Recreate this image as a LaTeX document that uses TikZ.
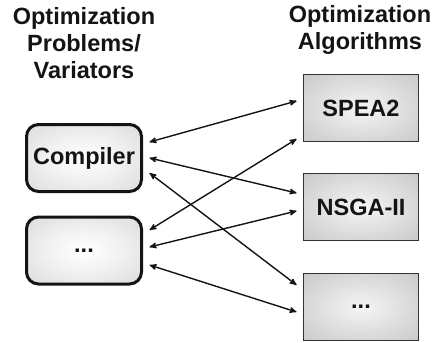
\documentclass[tikz,border=0pt]{standalone}
\usepackage{fontspec}
\setmainfont{Liberation Sans}
\usetikzlibrary{arrows}
\pgfdeclareradialshading{probshade}{\pgfpoint{0bp}{0bp}}{color(0bp)=(white); color(15bp)=(white!95!black); color(50bp)=(white!80!black); color(75bp)=(white!78!black)}
\pgfdeclareradialshading{algoshade}{\pgfpoint{0bp}{0bp}}{color(0bp)=(white!96!black); color(50bp)=(white!72!black); color(75bp)=(white!70!black)}

\begin{document}
\begin{tikzpicture}[x=1pt,y=-1pt,
every edge/.style = {draw=black!92,line width=1.4pt,stealth'-stealth'},
 prob/.style = {rectangle, rounded corners=12pt, draw=black!92, line width=3pt,
      shade, shading=probshade, minimum width=115pt, minimum height=67pt,
      text=black!92, font=\fontsize{23.5}{27}\selectfont\bfseries},
 algo/.style = {rectangle, draw=black!80, line width=0.9pt,
      shade, shading=algoshade, minimum width=115pt, minimum height=67pt,
      text=black!92, font=\fontsize{23.5}{27}\selectfont\bfseries},
 head/.style = {align=center, text=black!92, font=\fontsize{23.5}{27}\selectfont\bfseries}
                    ]
\useasboundingbox (0,0) rectangle (432,343);
\node(lhead) [head] at (84,43.5) {Optimization\\Problems/\\Variators};
\node(rhead) [head] at (360,30) {Optimization\\Algorithms};
\node(comp) [prob] at (84,158) {Compiler};
\node(pdots) [prob] at (84,250.5) {...};
\node(spea) [algo] at (361,108) {SPEA2};
\node(nsga) [algo] at (361,207) {NSGA-II};
\node(adots) [algo] at (361,307) {...};
%
\path   ([shift={(6.5,-16)}]comp.east)  edge ([shift={(-6.5,-7)}]spea.west);
\path   ([shift={(6.5,0)}]comp.east)  edge ([shift={(-6.5,-14)}]nsga.west);
\path   ([shift={(6.5,15)}]comp.east)  edge ([shift={(-6.5,-22)}]adots.west);
\path   ([shift={(6.5,-20.5)}]pdots.east)  edge ([shift={(-6.5,31)}]spea.west);
\path   ([shift={(6.5,-3.5)}]pdots.east)  edge ([shift={(-6.5,4)}]nsga.west);
\path   ([shift={(6.5,14.5)}]pdots.east)  edge ([shift={(-6.5,5)}]adots.west);
\end{tikzpicture}
\end{document}
